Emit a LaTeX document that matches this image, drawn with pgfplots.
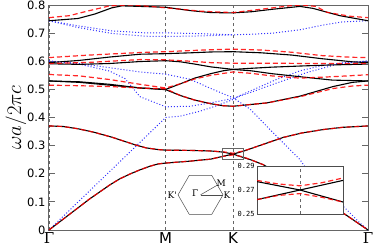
\documentclass[border=0pt]{standalone}
\usepackage{pgfplots}
\pgfplotsset{compat=1.18}
\usetikzlibrary{calc}
\usepackage{fontspec}
\setmainfont{DejaVu Sans}
\newfontfamily\cmfont{Latin Modern Roman}
\newfontfamily\gkfont{DejaVu Serif}
\newfontfamily\monofont{DejaVu Sans Mono}
\begin{document}
\begin{tikzpicture}
\pgfplotsset{
  blk/.style={black, line width=1.1pt},
  rd/.style={red, line width=1.2pt, opacity=0.85, dash pattern=on 5pt off 3pt},
  bl/.style={blue!80, line width=1.0pt, dash pattern=on 1pt off 2pt},
}
\begin{axis}[name=main,
  scale only axis, width=319pt, height=225pt,
  xmin=0, xmax=1.577, ymin=0, ymax=0.8,
  axis line style={black!60, line width=1pt},
  xtick={0,0.577,0.910,1.577},
  xticklabels={{\gkfont Γ},M,K,{\gkfont Γ}},
  x tick label style={font=\fontsize{15}{15}\selectfont, inner sep=0pt, yshift=-2pt},
  xtick style={draw=none},
  xmajorgrids, major x grid style={black!60, dashed, line width=0.6pt},
  ytick={0,0.1,0.2,0.3,0.4,0.5,0.6,0.7,0.8},
  yticklabels={0,0.1,0.2,0.3,0.4,0.5,0.6,0.7,0.8},
  y tick label style={font=\fontsize{11.5}{11.5}\selectfont},
  ytick pos=both, tick align=inside,
  ytick style={black!60, line width=1pt},
  major tick length=6pt,
  ylabel={$\omega a/2\pi c$},
  ylabel style={font=\fontsize{22}{22}\selectfont, yshift=-6pt},
  clip=true,
]
% blue dotted
\addplot[bl] coordinates {(0,0) (0.577,0.4) (0.65,0.405) (0.744,0.422) (0.83,0.442) (0.91,0.464) (0.944,0.478) (1.127,0.536) (1.241,0.566) (1.34,0.583) (1.45,0.594) (1.577,0.601)};
\addplot[bl] coordinates {(0,0.601) (0.15,0.59) (0.3,0.565) (0.376,0.538) (0.45,0.474) (0.577,0.438) (0.697,0.44) (0.8,0.452) (0.91,0.468) (1.0,0.49) (1.107,0.518) (1.275,0.56) (1.438,0.592) (1.577,0.601)};
\addplot[bl] coordinates {(0,0.601) (0.15,0.592) (0.36,0.571) (0.45,0.562) (0.577,0.554) (0.697,0.536) (0.81,0.5) (0.91,0.47) (0.994,0.43) (1.083,0.364) (1.241,0.25) (1.275,0.214) (1.537,0.025) (1.577,0)};
\addplot[bl] coordinates {(0,0.744) (0.143,0.726) (0.311,0.708) (0.475,0.701) (0.577,0.701) (0.75,0.698) (0.91,0.694) (1.0,0.696) (1.107,0.700) (1.241,0.712) (1.35,0.728) (1.45,0.74) (1.577,0.744)};
\addplot[bl] coordinates {(0,0.744) (0.143,0.72) (0.311,0.699) (0.475,0.689) (0.577,0.688) (0.75,0.69) (0.91,0.694)};
% black solid
\addplot[blk] coordinates {(0,0) (0.1,0.055) (0.2,0.11) (0.3,0.16) (0.35,0.182) (0.4,0.199) (0.45,0.214) (0.5,0.227) (0.54,0.235) (0.577,0.238) (0.7,0.245) (0.8,0.252) (0.86,0.262) (0.91,0.27) (0.96,0.258) (1.0,0.249) (1.06,0.232) (1.2,0.171) (1.3,0.128) (1.453,0.061) (1.577,0)};
\addplot[blk] coordinates {(0,0.37) (0.07,0.368) (0.143,0.36) (0.22,0.348) (0.311,0.33) (0.37,0.316) (0.425,0.303) (0.48,0.292) (0.539,0.286) (0.577,0.284) (0.7,0.283) (0.8,0.281) (0.86,0.277) (0.91,0.27) (0.96,0.28) (1.0,0.29) (1.157,0.329) (1.25,0.345) (1.354,0.357) (1.45,0.365) (1.577,0.37)};
\addplot[blk] coordinates {(0,0.53) (0.15,0.527) (0.3,0.518) (0.45,0.505) (0.577,0.499) (0.65,0.478) (0.72,0.462) (0.8,0.449) (0.86,0.442) (0.91,0.44) (1.078,0.452) (1.241,0.476) (1.404,0.51) (1.5,0.525) (1.577,0.53)};
\addplot[blk] coordinates {(0,0.53) (0.15,0.525) (0.3,0.515) (0.45,0.505) (0.577,0.5) (0.65,0.52) (0.72,0.54) (0.8,0.556) (0.86,0.566) (0.91,0.571) (1.0,0.566) (1.1,0.556) (1.241,0.545) (1.4,0.533) (1.577,0.53)};
\addplot[blk] coordinates {(0,0.591) (0.15,0.589) (0.3,0.592) (0.45,0.599) (0.577,0.602) (0.65,0.598) (0.72,0.59) (0.8,0.58) (0.91,0.571) (1.0,0.575) (1.1,0.579) (1.241,0.583) (1.4,0.587) (1.577,0.59)};
\addplot[blk] coordinates {(0,0.595) (0.15,0.603) (0.3,0.615) (0.45,0.625) (0.577,0.627) (0.7,0.63) (0.8,0.633) (0.91,0.634) (1.05,0.63) (1.2,0.622) (1.35,0.609) (1.5,0.598) (1.577,0.595)};
\addplot[blk] coordinates {(0,0.744) (0.143,0.752) (0.227,0.768) (0.311,0.79) (0.36,0.797) (0.45,0.795) (0.577,0.792) (0.7,0.78) (0.8,0.773) (0.91,0.772) (1.0,0.776) (1.107,0.785) (1.241,0.795) (1.305,0.788) (1.438,0.762) (1.577,0.744)};
% red dashed
\addplot[rd] coordinates {(0,0) (0.1,0.055) (0.2,0.11) (0.3,0.16) (0.35,0.182) (0.4,0.199) (0.45,0.214) (0.5,0.227) (0.54,0.235) (0.577,0.238) (0.7,0.245) (0.8,0.252) (0.86,0.262) (0.91,0.267) (0.96,0.26) (1.0,0.249) (1.06,0.232) (1.2,0.171) (1.3,0.128) (1.453,0.061) (1.577,0)};
\addplot[rd] coordinates {(0,0.37) (0.07,0.368) (0.143,0.36) (0.22,0.348) (0.311,0.33) (0.37,0.316) (0.425,0.303) (0.48,0.292) (0.539,0.286) (0.577,0.284) (0.7,0.283) (0.8,0.281) (0.86,0.278) (0.91,0.273) (0.96,0.281) (1.0,0.29) (1.157,0.329) (1.25,0.345) (1.354,0.357) (1.45,0.365) (1.577,0.37)};
\addplot[rd] coordinates {(0,0.515) (0.15,0.513) (0.3,0.51) (0.45,0.505) (0.577,0.502) (0.65,0.478) (0.72,0.462) (0.8,0.449) (0.86,0.442) (0.91,0.44) (1.078,0.452) (1.241,0.474) (1.404,0.503) (1.5,0.512) (1.577,0.515)};
\addplot[rd] coordinates {(0,0.553) (0.15,0.548) (0.3,0.535) (0.45,0.518) (0.577,0.505) (0.65,0.52) (0.72,0.537) (0.8,0.55) (0.91,0.562) (1.0,0.557) (1.1,0.548) (1.241,0.54) (1.4,0.545) (1.577,0.552)};
\addplot[rd] coordinates {(0,0.592) (0.2,0.596) (0.45,0.606) (0.577,0.605) (0.7,0.6) (0.8,0.595) (0.91,0.593) (1.1,0.593) (1.3,0.592) (1.577,0.592)};
\addplot[rd] coordinates {(0,0.613) (0.2,0.622) (0.45,0.631) (0.577,0.634) (0.7,0.638) (0.8,0.641) (0.91,0.643) (1.05,0.64) (1.2,0.632) (1.35,0.62) (1.5,0.614) (1.577,0.613)};
\addplot[rd] coordinates {(0,0.755) (0.1,0.762) (0.2,0.78) (0.3,0.797) (0.4,0.8) (0.5,0.795) (0.577,0.79) (0.75,0.778) (0.91,0.773) (1.05,0.785) (1.2,0.798) (1.25,0.8) (1.32,0.795) (1.374,0.774) (1.488,0.76) (1.577,0.755)};
% zoom box
\draw[black!60, line width=0.6pt] (axis cs:0.855,0.25) rectangle (axis cs:0.96,0.292);
% Brillouin zone sketch
\coordinate (hc) at (axis cs:0.749,0.125);
\draw[black!70, line width=0.5pt] (hc) ++(-22.5pt,0) -- ++(11.25pt,19.5pt) -- ++(22.5pt,0) -- ++(11.25pt,-19.5pt) -- ++(-11.25pt,-19.5pt) -- ++(-22.5pt,0) -- cycle;
\draw[black!70, line width=0.5pt] (hc) -- ++(22.5pt,0);
\draw[black!70, line width=0.5pt] (hc) -- ++(16.9pt,9.75pt);
\node[font=\gkfont\fontsize{9}{9}\selectfont, anchor=east, inner sep=1pt] at ($(hc)+(-22.5pt,0)$) {K'};
\node[font=\gkfont\fontsize{9}{9}\selectfont, anchor=east, inner sep=1pt] at ($(hc)+(-1pt,2pt)$) {Γ};
\node[font=\gkfont\fontsize{9}{9}\selectfont, anchor=west, inner sep=1pt] at ($(hc)+(22pt,0)$) {K};
\node[font=\gkfont\fontsize{9}{9}\selectfont, anchor=west, inner sep=1pt] at ($(hc)+(15pt,12pt)$) {M};
\end{axis}
\begin{axis}[at={(main.south west)}, anchor=south west, xshift=208pt, yshift=16pt,
  scale only axis, width=86pt, height=48pt,
  xmin=0.86, xmax=0.96, ymin=0.25, ymax=0.29,
  axis background/.style={fill=white},
  axis line style={black!70, line width=0.7pt},
  xtick={0.91}, xticklabels={}, xtick style={draw=none},
  xmajorgrids, major x grid style={black!60, dashed, line width=0.5pt},
  ytick={0.25,0.27,0.29}, yticklabels={0.25,0.27,0.29},
  y tick label style={font=\monofont\fontsize{7}{7}\selectfont, xshift=1pt},
  ytick style={draw=none},
  clip=true,
]
\addplot[blk] coordinates {(0.86,0.277) (0.91,0.27) (0.96,0.26)};
\addplot[blk] coordinates {(0.86,0.262) (0.91,0.27) (0.96,0.278)};
\addplot[rd] coordinates {(0.86,0.278) (0.885,0.275) (0.91,0.2735) (0.935,0.276) (0.96,0.28)};
\addplot[rd] coordinates {(0.86,0.262) (0.885,0.2655) (0.91,0.267) (0.935,0.264) (0.96,0.26)};
\end{axis}
\pgfresetboundingbox
\useasboundingbox ($(main.south west)+(-49pt,-17pt)$) rectangle ($(main.north east)+(6pt,5pt)$);
\end{tikzpicture}
\end{document}
